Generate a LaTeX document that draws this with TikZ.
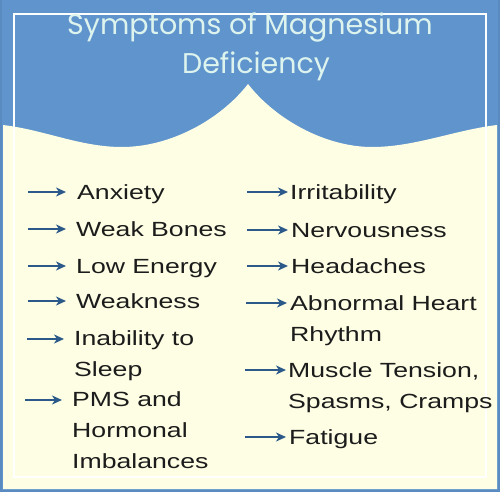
\documentclass[tikz,border=0pt]{standalone}
\usepackage{fontspec}
\setmainfont{Liberation Sans}[FakeStretch=1.3]
\newfontfamily\titlefont{Poppins}
\usetikzlibrary{arrows.meta}
\definecolor{bgblue}{HTML}{6094CD}
\definecolor{edgeblue}{HTML}{5A8BC0}
\definecolor{cream}{HTML}{FEFEE4}
\definecolor{titlecol}{HTML}{DDF4EE}
\definecolor{arrowcol}{HTML}{2B5A8A}
\definecolor{txtcol}{HTML}{1C1C1C}
\tikzset{
  item/.style={anchor=base west, inner sep=0pt, text=txtcol, align=left,
    font=\fontsize{20.5}{31}\selectfont},
  ttl/.style={anchor=base, inner sep=0pt, text=titlecol,
    font=\titlefont\fontsize{28.5}{36}\selectfont},
  arr/.style={draw=arrowcol, line width=2.2pt,
    -{Stealth[length=10pt,width=9pt,inset=3pt]}},
}
\begin{document}
\begin{tikzpicture}[x=1pt,y=-1pt]
\useasboundingbox (0,0) rectangle (500,492);
\fill[edgeblue] (0,0) rectangle (500,492);
\fill[bgblue] (2,0) rectangle (498,490);
% cream wave region
\fill[cream] (3,125) .. controls (45,130) and (80,147) .. (122,147)
  .. controls (170,147) and (220,120) .. (248,84)
  .. controls (276,120) and (326,147) .. (372,147)
  .. controls (415,147) and (455,130) .. (497,125)
  -- (497,489) -- (3,489) -- cycle;
\draw[white, line width=1.5pt] (14,14) rectangle (486,477);
% title
\node[ttl] (t1) at (250,35) {Symptoms of Magnesium};
\node[ttl] (t2) at (256,74) {Deficiency};
% left column (multi-line nodes: coordinate is the last line's baseline)
\node[item] (l1) at (77,199) {Anxiety};
\node[item] (l2) at (76,236) {Weak Bones};
\node[item] (l3) at (76,273) {Low Energy};
\node[item] (l4) at (76,308) {Weakness};
\node[item] (l5) at (74,376) {Inability to\\Sleep};
\node[item] (l6) at (72,468) {PMS and\\Hormonal\\Imbalances};
% right column
\node[item] (r1) at (290,199) {Irritability};
\node[item] (r2) at (291,237) {Nervousness};
\node[item] (r3) at (291,273) {Headaches};
\node[item] (r4) at (290,341) {Abnormal Heart\\Rhythm};
\node[item] (r5) at (288,408) {Muscle Tension,\\Spasms, Cramps};
\node[item] (r6) at (289,444) {Fatigue};
% arrow coordinates
\coordinate (la1) at (28,192); \coordinate (lb1) at (66,192);
\coordinate (la2) at (28,229); \coordinate (lb2) at (66,229);
\coordinate (la3) at (28,266); \coordinate (lb3) at (66,266);
\coordinate (la4) at (28,301); \coordinate (lb4) at (66,301);
\coordinate (la5) at (27,339); \coordinate (lb5) at (64,339);
\coordinate (la6) at (25,400); \coordinate (lb6) at (62,400);
\coordinate (ra1) at (247,192); \coordinate (rb1) at (288,192);
\coordinate (ra2) at (247,230); \coordinate (rb2) at (288,230);
\coordinate (ra3) at (247,266); \coordinate (rb3) at (288,266);
\coordinate (ra4) at (246,303); \coordinate (rb4) at (287,303);
\coordinate (ra5) at (245,370); \coordinate (rb5) at (286,370);
\coordinate (ra6) at (245,437); \coordinate (rb6) at (286,437);
\foreach \i in {1,...,6}{
  \draw[arr] (la\i) -- (lb\i);
  \draw[arr] (ra\i) -- (rb\i);
}
\end{tikzpicture}
\end{document}
